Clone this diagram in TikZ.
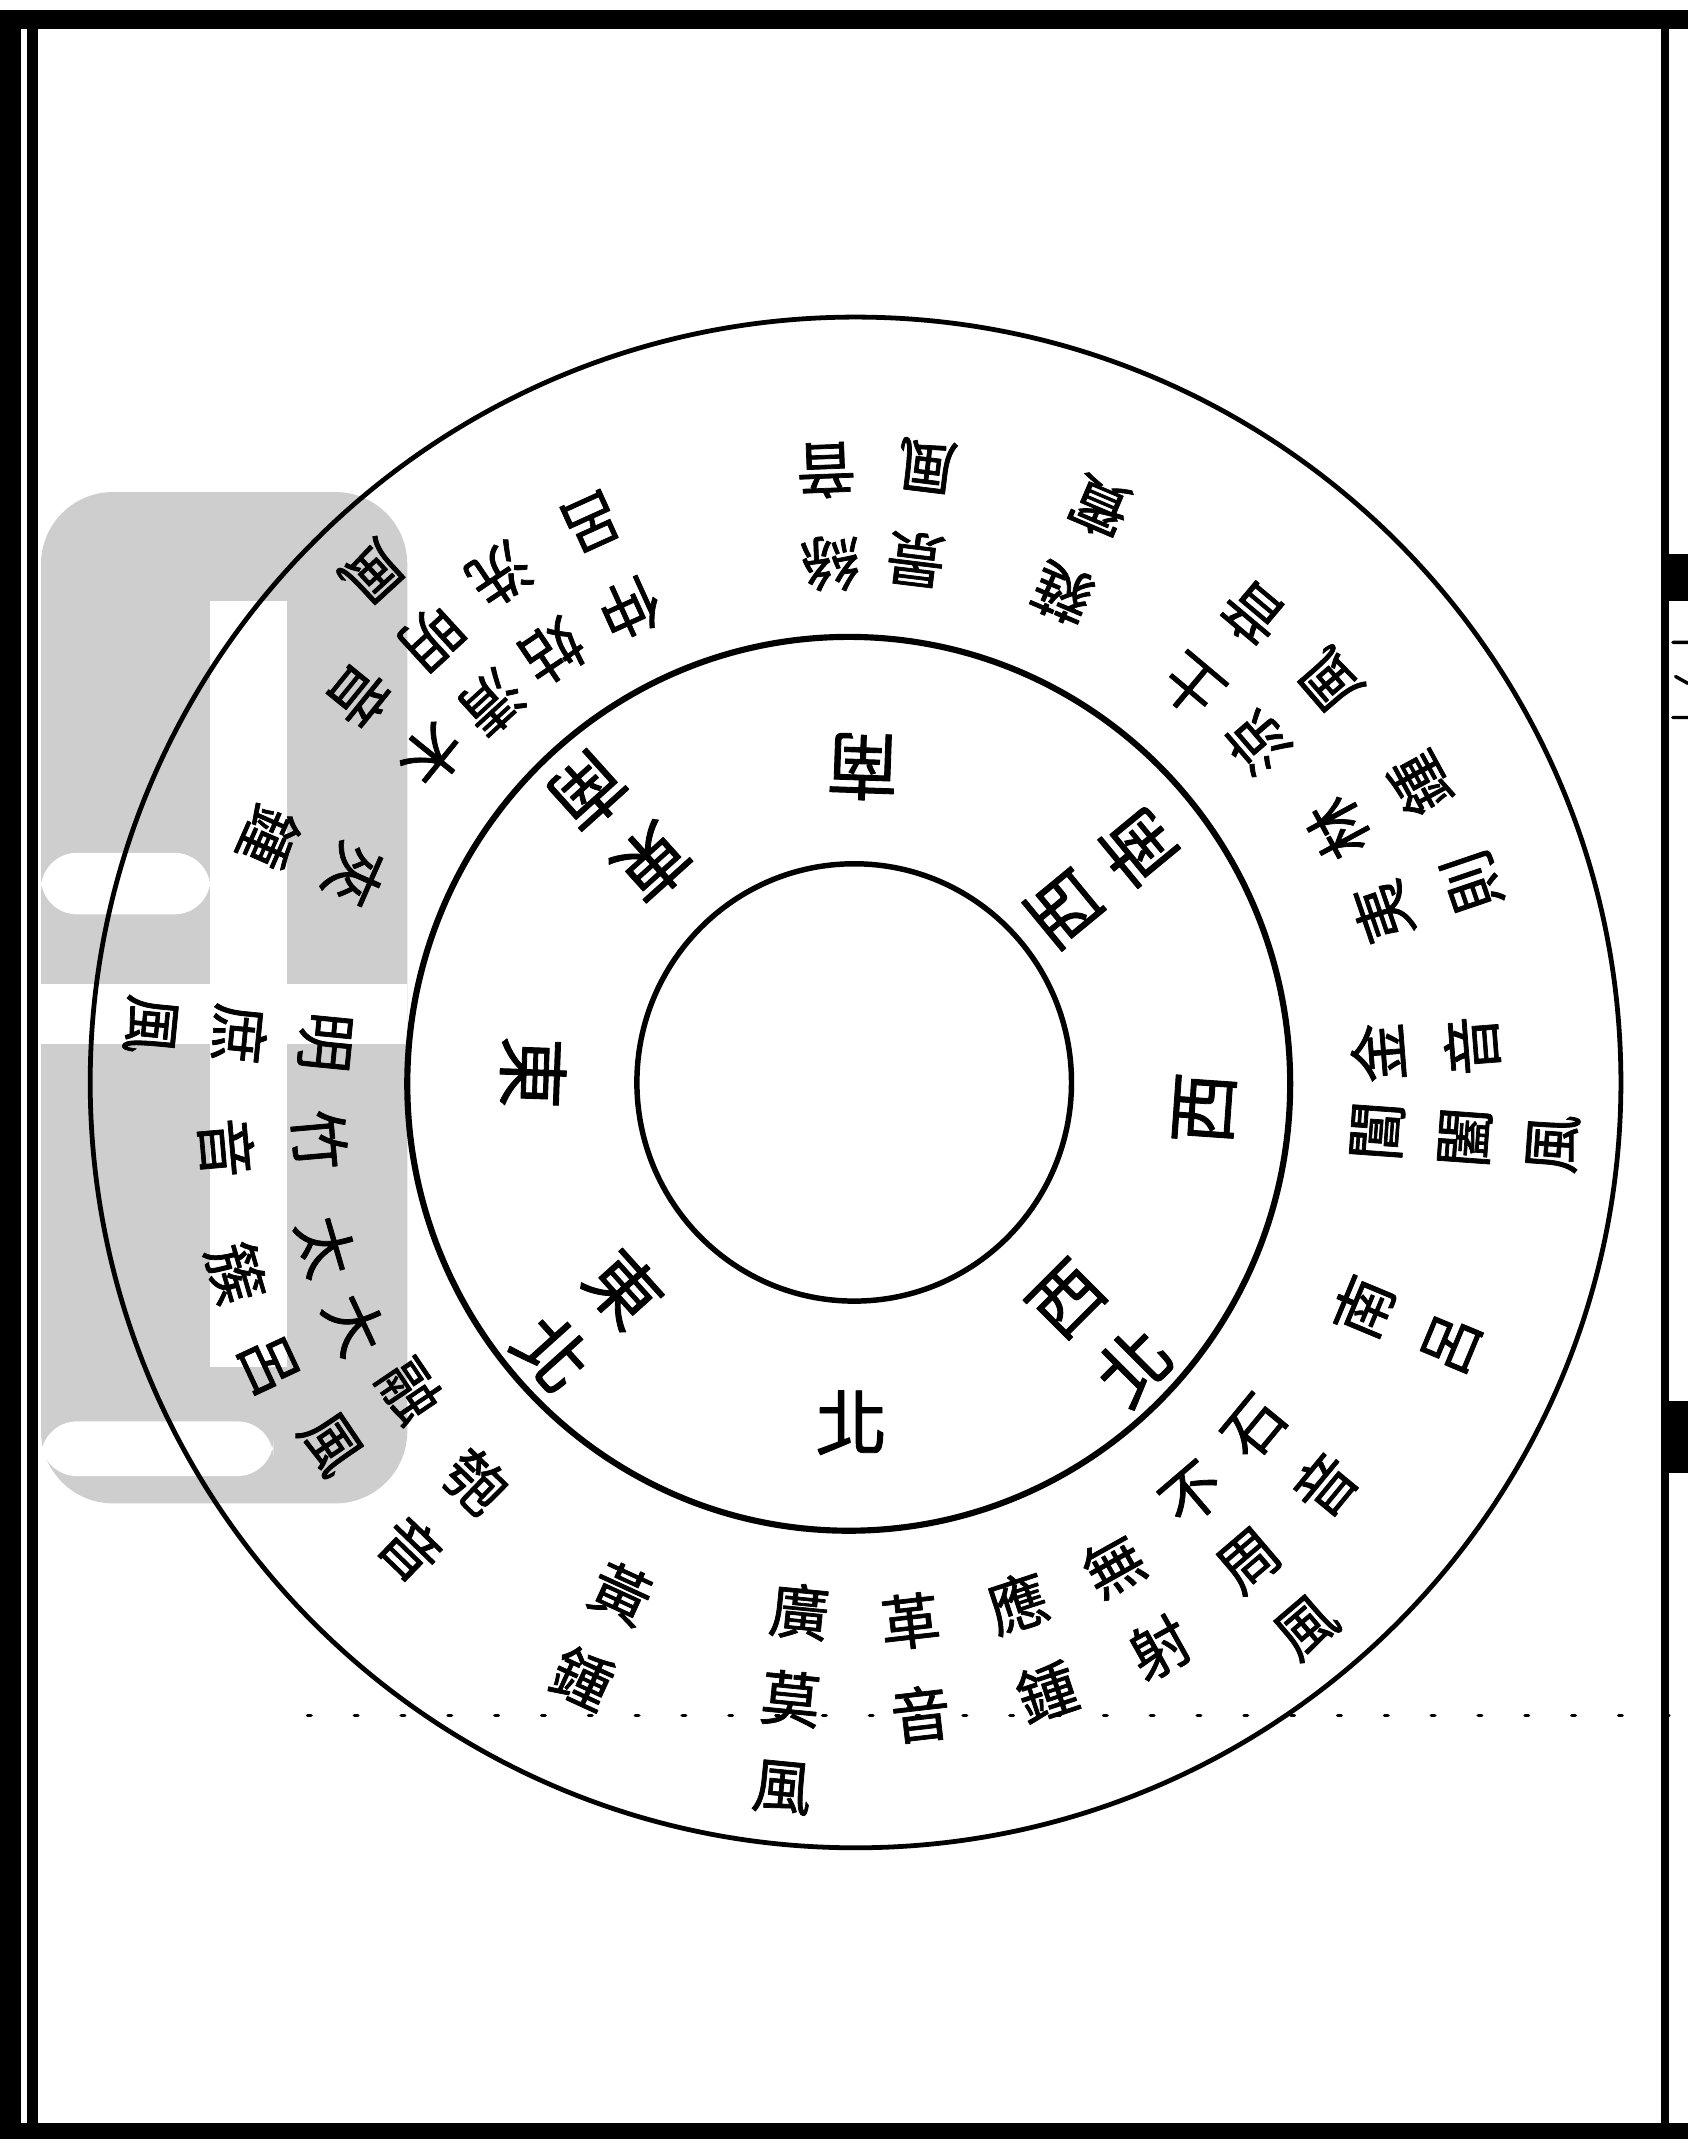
\documentclass[tikz,border=0pt]{standalone}
\usepackage{fontspec}
\newfontfamily\cjk[FakeBold=1.2]{Noto Sans CJK TC}
\definecolor{markgray}{RGB}{206,206,206}
\begin{document}
\begin{tikzpicture}[x=0.02cm, y=0.02cm, line join=round, line cap=round]
	\tikzset{
		ring/.style={line width=0.08cm},
		wz/.style={inner sep=0pt, align=center, font=\cjk\fontsize{25}{39}\selectfont},
		wzt/.style={inner sep=0pt, align=center, font=\cjk\fontsize{25}{36.5}\selectfont},
		fw/.style={inner sep=0pt, align=center, font=\cjk\fontsize{30}{40}\selectfont}
	}
	\useasboundingbox (0,0) rectangle (1235,-1568);
	% library stamp
	\fill[markgray, rounded corners=30] (30,-360) rectangle (298,-1100);
	\fill[white] (154,-440) rectangle (210,-1000);
	\fill[white] (30,-720) rectangle (298,-764);
	\fill[white, rounded corners=15] (30,-624) rectangle (154,-669);
	\fill[white, rounded corners=15] (30,-1040) rectangle (200,-1080);
	% page frame
	\fill (0,-7) rectangle (1235,-21);
	\fill (0,-7) rectangle (15,-1565);
	\fill (20,-21) rectangle (28,-1553);
	\fill (0,-1553) rectangle (1235,-1565);
	\fill (1215,-21) rectangle (1221,-1553);
	\fill (1221,-405) rectangle (1235,-440);
	\fill (1221,-1025) rectangle (1235,-1078);
	\draw[line width=0.05cm] (1224,-470) -- (1235,-470) (1226,-495) -- (1235,-500) (1224,-525) -- (1235,-525);
	\draw[line width=0.05cm, dash pattern=on 1.5pt off 18pt] (225,-1255) -- (1235,-1255);
	% circles
	\draw[line width=0.07cm] (626,-792) circle (560);
	\draw[line width=0.09cm] (621,-793) ellipse (323 and 327);
	\draw[ring] (625,-792) ellipse (159 and 160);
	% directions
	\begin{scope}[shift={(623,-793)}]
		\foreach \a/\r/\s [count=\i] in {88/232/南, 39.5/238/西\\南, -4/259/西, -45/258/西\\北,
			-90/248/北, 222/259/東\\北, 178/233/東, 132/253/東\\南}
		\node[fw, rotate=\a+90] (f\i) at (\a:\r) {\s};
	\end{scope}
	% winds, sounds, pitches
	\begin{scope}[shift={(622,-800)}]
		\foreach \a/\r/\s [count=\i] in {92.2/422/絲\\音, 83/428/景\\風, 67/432/蕤\\賓,
			50/424/土\\音, 40.7/428/涼\\風, 28.5/440/林\\鍾, 18.8/446/夷\\則,
			4.4/422/金\\音, -22.6/441/南\\呂,
			-39.5/418/石\\音, -60.8/430/無\\射, -71.8/426/應\\鍾,
			-83.5/423/革\\音, -114.6/436/黃\\鍾,
			-134/429/匏\\音, -146/423/融\\風, -155/434/大\\呂, -163.7/434/太\\簇,
			185/424/竹\\音, 156.2/430/夾\\鍾,
			141/428/木\\音, 124/424/姑\\洗, 114.4/424/仲\\呂}
		\node[wz, rotate=\a+90] (w\i) at (\a:\r) {\s};
		\foreach \a/\r/\s [count=\i] in {-4.1/451/閶\\闔\\風, -49.5/450/不\\周\\風,
			-95.6/445/廣\\莫\\風, 174.4/450/明\\庶\\風, 132.5/452/清\\明\\風}
		\node[wzt, rotate=\a+90] (v\i) at (\a:\r) {\s};
	\end{scope}
\end{tikzpicture}
\end{document}
